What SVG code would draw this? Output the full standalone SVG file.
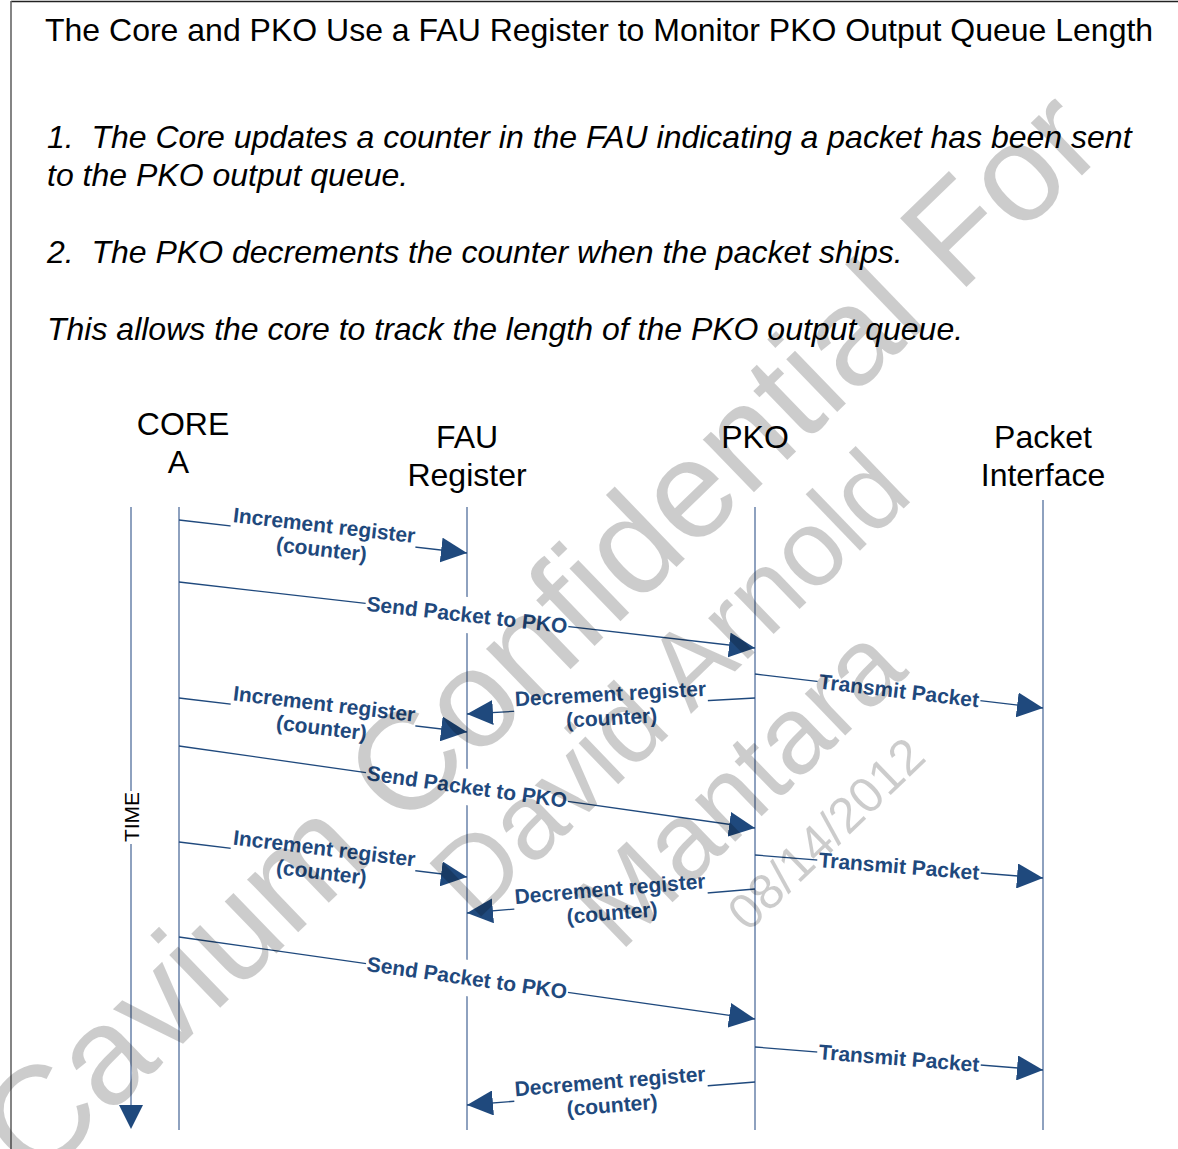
<svg xmlns="http://www.w3.org/2000/svg" width="1178" height="1149" viewBox="0 0 1178 1149">
<defs>
<style>
.t{font-family:"Liberation Sans",Arial,sans-serif;fill:#000}
.hdr{font-family:"Liberation Sans",Arial,sans-serif;font-size:32px;fill:#000;text-anchor:middle}
.it{font-family:"Liberation Sans",Arial,sans-serif;font-size:32px;font-style:italic;fill:#000;white-space:pre}
.ll{stroke:#8EA1BF;stroke-width:2;fill:none}
.msg{stroke:#1F497D;stroke-width:1.3;fill:none;marker-end:url(#ah)}
.lbl{font-family:"Liberation Sans",Arial,sans-serif;font-weight:bold;font-size:21px;fill:#1F497D;text-anchor:middle}
.bg{fill:#fff}
.wm{font-family:"Liberation Sans",Arial,sans-serif;fill:#000;fill-opacity:0.2;text-anchor:middle}
</style>
<marker id="ah" markerUnits="userSpaceOnUse" markerWidth="26" markerHeight="25" refX="26" refY="12.5" orient="auto" viewBox="0 0 26 25">
<path d="M0,0 L26,12.5 L0,25 z" fill="#1F497D"/>
</marker>
</defs>
<rect width="1178" height="1149" fill="#fff"/>
<line x1="11" y1="1.5" x2="1178" y2="1.5" stroke="#222" stroke-width="1.3"/>
<line x1="11" y1="1" x2="11" y2="1149" stroke="#666" stroke-width="1.6"/>

<text class="t" x="45" y="41" font-size="32">The Core and PKO Use a FAU Register to Monitor PKO Output Queue Length</text>
<text class="it" x="47" y="148" xml:space="preserve">1.  The Core updates a counter in the FAU indicating a packet has been sent</text>
<text class="it" x="47" y="186">to the PKO output queue.</text>
<text class="it" x="47" y="263" xml:space="preserve">2.  The PKO decrements the counter when the packet ships.</text>
<text class="it" x="47" y="340">This allows the core to track the length of the PKO output queue.</text>

<g id="time">
<line class="ll" x1="131" y1="507" x2="131" y2="1106"/>
<polygon points="119,1105 143,1105 131,1129" fill="#1F497D"/>
<rect x="120" y="791" width="22" height="53" class="bg"/>
<text class="t" font-size="21" text-anchor="middle" transform="translate(138.5,817) rotate(-90)">TIME</text>
</g>
<g id="core">
<text class="hdr" x="183" y="435">CORE</text>
<text class="hdr" x="178.5" y="473">A</text>
<line class="ll" x1="179" y1="507" x2="179" y2="1130"/>
</g>
<g id="fau">
<text class="hdr" x="467" y="448">FAU</text>
<text class="hdr" x="467" y="486">Register</text>
<line class="ll" x1="467" y1="507" x2="467" y2="1130"/>
</g>
<g id="pko">
<text class="hdr" x="755" y="448">PKO</text>
<line class="ll" x1="755" y1="507" x2="755" y2="1130"/>
</g>
<g id="pi">
<text class="hdr" x="1043" y="448">Packet</text>
<text class="hdr" x="1043" y="486">Interface</text>
<line class="ll" x1="1043" y1="500" x2="1043" y2="1130"/>
</g>

<g id="connectors">
<line class="msg" x1="179" y1="520" x2="467" y2="553"/>
<g transform="translate(323,536.5) rotate(6.54)"><rect class="bg" x="-93" y="-20" width="186" height="46"/><text class="lbl" y="-4">Increment register</text><text class="lbl" y="20">(counter)</text></g>

<line class="msg" x1="179" y1="582" x2="755" y2="648"/>
<g transform="translate(467,615) rotate(6.4)"><rect class="bg" x="-102" y="-18" width="204" height="36"/><text class="lbl" y="7">Send Packet to PKO</text></g>

<line class="msg" x1="755" y1="674" x2="1043" y2="708"/>
<g transform="translate(899,691) rotate(6.73)"><rect class="bg" x="-82" y="-12" width="164" height="24"/><text class="lbl" y="7">Transmit Packet</text></g>

<line class="msg" x1="755" y1="698" x2="467" y2="714"/>
<g transform="translate(611,706) rotate(-3.18)"><rect class="bg" x="-97" y="-21" width="194" height="47"/><text class="lbl" y="-5">Decrement register</text><text class="lbl" y="19">(counter)</text></g>

<line class="msg" x1="179" y1="698" x2="467" y2="732"/>
<g transform="translate(323,715) rotate(6.73)"><rect class="bg" x="-93" y="-20" width="186" height="46"/><text class="lbl" y="-4">Increment register</text><text class="lbl" y="20">(counter)</text></g>

<line class="msg" x1="179" y1="746" x2="755" y2="828"/>
<g transform="translate(467,787) rotate(7.9)"><rect class="bg" x="-102" y="-18" width="204" height="36"/><text class="lbl" y="7">Send Packet to PKO</text></g>

<line class="msg" x1="179" y1="842" x2="467" y2="877"/>
<g transform="translate(323,859.5) rotate(6.93)"><rect class="bg" x="-93" y="-20" width="186" height="46"/><text class="lbl" y="-4">Increment register</text><text class="lbl" y="20">(counter)</text></g>

<line class="msg" x1="755" y1="855" x2="1043" y2="878"/>
<g transform="translate(899,866.5) rotate(4.57)"><rect class="bg" x="-82" y="-12" width="164" height="24"/><text class="lbl" y="7">Transmit Packet</text></g>

<line class="msg" x1="755" y1="889" x2="467" y2="913"/>
<g transform="translate(611,901) rotate(-4.76)"><rect class="bg" x="-97" y="-21" width="194" height="47"/><text class="lbl" y="-5">Decrement register</text><text class="lbl" y="19">(counter)</text></g>

<line class="msg" x1="179" y1="937" x2="755" y2="1019"/>
<g transform="translate(467,978) rotate(8.0)"><rect class="bg" x="-102" y="-18" width="204" height="36"/><text class="lbl" y="7">Send Packet to PKO</text></g>

<line class="msg" x1="755" y1="1047" x2="1043" y2="1070"/>
<g transform="translate(899,1058.5) rotate(4.57)"><rect class="bg" x="-82" y="-12" width="164" height="24"/><text class="lbl" y="7">Transmit Packet</text></g>

<line class="msg" x1="755" y1="1082" x2="467" y2="1105"/>
<g transform="translate(611,1093.5) rotate(-4.57)"><rect class="bg" x="-97" y="-21" width="194" height="47"/><text class="lbl" y="-5">Decrement register</text><text class="lbl" y="19">(counter)</text></g>
</g>

<g id="watermark">
<text class="wm" font-size="139" transform="translate(572,668) rotate(-44)">Cavium Confidential For</text>
<text class="wm" font-size="108" transform="translate(695,710) rotate(-44)">David Arnold</text>
<text class="wm" font-size="110" transform="translate(765,813) rotate(-44)">Mantara</text>
<text class="wm" font-size="50" transform="translate(838,846) rotate(-44)">08/14/2012</text>
</g>
</svg>
